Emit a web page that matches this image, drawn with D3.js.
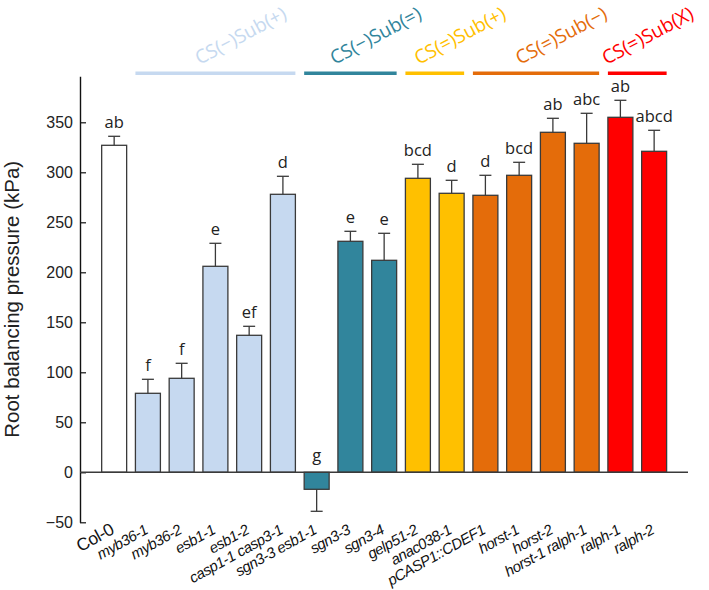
<!DOCTYPE html>
<html>
<head>
<meta charset="utf-8">
<script src="https://cdn.jsdelivr.net/npm/d3@7"></script>
<style>
  body { margin: 0; background: #fff; }
  svg { display: block; }
</style>
</head>
<body>
<div id="chart"></div>
<script>
// genotypes, in plot order
var genotypes = ['Col-0', 'myb36-1', 'myb36-2', 'esb1-1', 'esb1-2', 'casp1-1 casp3-1',
  'sgn3-3 esb1-1', 'sgn3-3', 'sgn3-4', 'gelp51-2', 'anac038-1', 'pCASP1::CDEF1',
  'horst-1', 'horst-2', 'horst-1 ralph-1', 'ralph-1', 'ralph-2'];
var means = [327, 79, 94, 206, 137, 278, -17, 231, 212, 294, 279, 277, 297, 340, 329, 355, 321];
var errors = [9, 14, 15, 23, 9, 18, 22, 10, 27, 14, 13, 20, 13, 14, 30, 17, 21];
var letters = ['ab', 'f', 'f', 'e', 'ef', 'd', 'g', 'e', 'e', 'bcd', 'd', 'd', 'bcd', 'ab', 'abc', 'ab', 'abcd'];
var groupOf = ['wt', 'g1', 'g1', 'g1', 'g1', 'g1', 'g2', 'g2', 'g2', 'g3', 'g3', 'g4', 'g4', 'g4', 'g4', 'g5', 'g5'];

// phenotype groups shown over the bars
var groupIds = ['g1', 'g2', 'g3', 'g4', 'g5'];
var groupNames = ['CS(\u2212)Sub(+)', 'CS(\u2212)Sub(=)', 'CS(=)Sub(+)', 'CS(=)Sub(\u2212)', 'CS(=)Sub(X)'];
var yTicks = [-50, 0, 50, 100, 150, 200, 250, 300, 350];

var colors = { wt: '#ffffff', g1: '#c6d9f0', g2: '#31859c', g3: '#ffc000', g4: '#e46c0a', g5: '#ff0000' };

var width = 709, height = 590;
var ink = '#3a3a3a';

var svg = d3.select('#chart').append('svg')
  .attr('width', width)
  .attr('height', height);

// scales
var x = d3.scaleBand()
  .domain(genotypes)
  .range([92.9, 675.4])
  .padding(0.26);

var y = d3.scaleLinear()
  .domain([-50, 396])
  .range([522.3, 76.3]);

var data = genotypes.map(function(g, i) {
  return { name: g, mean: means[i], err: errors[i], letter: letters[i], group: groupOf[i] };
});

// y axis, ticks point inwards
var yAxis = svg.append('g')
  .attr('transform', 'translate(80,0)')
  .call(d3.axisLeft(y).tickValues(yTicks).tickSize(-6).tickSizeOuter(0).tickPadding(7)
    .tickFormat(function(d) { return d < 0 ? '\u2212' + Math.abs(d) : d; }));
yAxis.select('.domain').attr('stroke', '#111').attr('stroke-width', 1.4);
yAxis.selectAll('.tick line').attr('stroke', '#111').attr('stroke-width', 1.2);
yAxis.selectAll('.tick text')
  .attr('fill', '#222')
  .style('font-family', 'Liberation Sans, Arial, sans-serif')
  .style('font-size', '16px');

// axis title
svg.append('text')
  .attr('transform', 'translate(19,' + ((y.range()[0] + y.range()[1]) / 2) + ') rotate(-90)')
  .attr('text-anchor', 'middle')
  .attr('fill', '#222')
  .style('font-family', 'Liberation Sans, Arial, sans-serif')
  .style('font-size', '20.5px')
  .text('Root balancing pressure (kPa)');

// bars
svg.append('g')
  .selectAll('rect')
  .data(data)
  .enter()
  .append('rect')
    .attr('x', function(d) { return x(d.name); })
    .attr('y', function(d) { return y(Math.max(0, d.mean)); })
    .attr('width', x.bandwidth())
    .attr('height', function(d) { return Math.abs(y(d.mean) - y(0)); })
    .attr('fill', function(d) { return colors[d.group]; })
    .attr('stroke', ink)
    .attr('stroke-width', 1.3);

// zero line
svg.append('line')
  .attr('x1', 80).attr('x2', 688)
  .attr('y1', y(0)).attr('y2', y(0))
  .attr('stroke', ink)
  .attr('stroke-width', 1.4);

// error bars (one sided)
var errG = svg.append('g').attr('stroke', ink).attr('stroke-width', 1.3);
data.forEach(function(d) {
  var cx = x(d.name) + x.bandwidth() / 2;
  var tip = d.mean < 0 ? d.mean - d.err : d.mean + d.err;
  errG.append('line')
    .attr('x1', cx).attr('x2', cx)
    .attr('y1', y(d.mean)).attr('y2', y(tip));
  errG.append('line')
    .attr('x1', cx - 6).attr('x2', cx + 6)
    .attr('y1', y(tip)).attr('y2', y(tip));
});

// significance letters
svg.append('g')
  .selectAll('text')
  .data(data)
  .enter()
  .append('text')
    .attr('x', function(d) { return x(d.name) + x.bandwidth() / 2; })
    .attr('y', function(d) { return d.mean < 0 ? y(0) - 11 : y(d.mean + d.err) - 8; })
    .attr('text-anchor', 'middle')
    .attr('fill', '#222')
    .style('font-family', 'Open Sans, sans-serif')
    .style('font-size', '16.5px')
    .text(function(d) { return d.letter; });

// genotype labels, rotated (wild type upright and a bit bigger)
svg.append('g')
  .selectAll('text')
  .data(data)
  .enter()
  .append('text')
    .attr('transform', function(d) {
      return 'translate(' + (x(d.name) + x.bandwidth() / 2 + 1) + ',533) rotate(-29)';
    })
    .attr('text-anchor', 'end')
    .attr('fill', '#111')
    .style('font-family', 'Liberation Sans, Arial, sans-serif')
    .style('font-size', function(d) { return d.name === 'Col-0' ? '17.5px' : '15px'; })
    .style('font-style', function(d) { return d.name === 'Col-0' ? 'normal' : 'italic'; })
    .style('letter-spacing', '-0.45px')
    .text(function(d) { return d.name; });

// group lines + labels on top
groupIds.forEach(function(id, k) {
  var members = genotypes.filter(function(g, i) { return groupOf[i] === id; });
  var x0 = x(members[0]);
  var x1 = x(members[members.length - 1]) + x.bandwidth();
  svg.append('line')
    .attr('x1', x0).attr('x2', x1)
    .attr('y1', 73.3).attr('y2', 73.3)
    .attr('stroke', colors[id])
    .attr('stroke-width', 3.5);
  var lbl = svg.append('text')
    .attr('fill', colors[id])
    .style('font-family', 'Open Sans, sans-serif')
    .style('font-size', '19px')
    .text(groupNames[k]);
  // keep the slanted label inside the page on the right
  var reach = lbl.node().getComputedTextLength() * Math.cos(28 * Math.PI / 180);
  var sx = Math.min((x0 + x1) / 2 - 16, width - 14 - reach);
  lbl.attr('transform', 'translate(' + sx + ',65) rotate(-28)');
});
</script>
</body>
</html>
